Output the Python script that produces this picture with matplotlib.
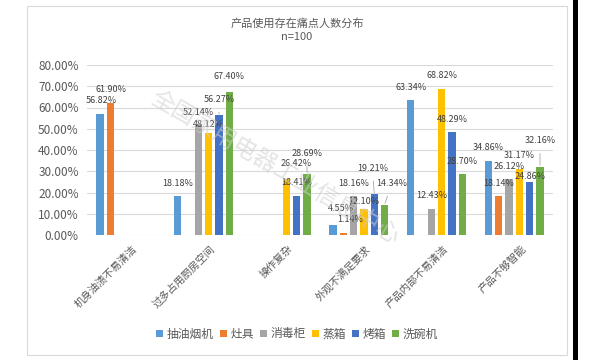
"""Bar chart of product pain points by appliance type."""

import matplotlib
matplotlib.use("Agg")
import matplotlib.pyplot as plt
import matplotlib.transforms as mtrans
from matplotlib.patches import Patch, Rectangle
import numpy as np

plt.rcParams['font.family'] = ['Noto Sans CJK SC', 'DejaVu Sans']

# data
categories = ["机身油渍不易清洁", "过多占用厨房空间", "操作复杂",
              "外观不满足要求", "产品内部不易清洁", "产品不够智能"]
series = ["抽油烟机", "灶具", "消毒柜", "蒸箱", "烤箱", "洗碗机"]
nan = np.nan
hood = [56.82, 18.18, nan, 4.55, 63.34, 34.86]
stove = [61.90, nan, nan, 1.14, nan, 18.14]
steril = [nan, 52.14, nan, 18.16, 12.43, 26.12]
steamer = [nan, 48.12, 26.42, 12.10, 68.82, 31.17]
oven = [nan, 56.27, 18.41, 19.21, 48.29, 24.86]
washer = [nan, 67.40, 28.69, 14.34, 28.70, 32.16]
values = [hood, stove, steril, steamer, oven, washer]

colors = ["#5B9BD5", "#ED7D31", "#A5A5A5", "#FFC000", "#4472C4", "#70AD47"]

# label nudges in pixels (dx, dy above bar top), keyed by (category, series)
nudge = {
    (0, 0): (1, 14), (0, 1): (1, 14),
    (1, 2): (0, 12), (1, 3): (0, 8), (1, 4): (0, 16), (1, 5): (0, 15),
    (2, 3): (10, 15), (2, 5): (0, 21),
    (3, 0): (8, 17), (3, 1): (7, 13), (3, 3): (0, 8), (3, 4): (-2, 26),
    (3, 5): (7, 21),
    (5, 4): (0, 6), (5, 5): (0, 26),
}
leaders = {(1, 4), (2, 5), (3, 4), (3, 5), (5, 5)}

fig = plt.figure(figsize=(6, 3.6), dpi=100)
W, H = 600, 360

# outer chart frame and the black edge on the right
fig.patches.append(Rectangle((27 / W, 1 - 355 / H), 540 / W, 349 / H,
                             transform=fig.transFigure, fill=False,
                             edgecolor="#d9d9d9", lw=0.8))
fig.patches.append(Rectangle((573 / W, 0), 5 / W, 1, transform=fig.transFigure,
                             facecolor="black", edgecolor="none"))

ax = fig.add_axes([87 / W, 1 - 235 / H, 466 / W, 170 / H])

x = np.arange(len(categories))
slot = 0.133
width = 0.097
txt_color = "#595959"

for i, (vals, col) in enumerate(zip(values, colors)):
    pos = x + (i - 2.5) * slot
    ax.bar(pos, vals, width=width, color=col, zorder=3)
    for c, v in enumerate(vals):
        if np.isnan(v):
            continue
        dx, dy = nudge.get((c, i), (0, 13))
        kw = {}
        if (c, i) in leaders:
            kw["arrowprops"] = dict(arrowstyle="-", color="#a6a6a6", lw=0.6,
                                    shrinkA=4, shrinkB=1)
        ax.annotate(f"{v:.2f}%", xy=(pos[c], v), xytext=(dx, dy),
                    textcoords="offset pixels", ha="center", va="center",
                    fontsize=6.5, color="#404040", zorder=4, **kw)

ax.set_xlim(-0.5, len(categories) - 0.5)
ax.set_ylim(0, 80)
ax.set_yticks(np.arange(0, 81, 10))
ax.set_yticklabels([f"{t:.2f}%" for t in range(0, 81, 10)])
ax.grid(axis="y", color="#d9d9d9", lw=0.8, zorder=0)
for s in ax.spines.values():
    s.set_visible(False)
ax.tick_params(axis="y", length=0, pad=6, labelsize=8.5, labelcolor=txt_color)
ax.tick_params(axis="x", length=0, pad=3, labelsize=7.5, labelcolor=txt_color)
ax.set_xticks(x)
ax.set_xticklabels(categories, rotation=45, ha="right", va="center",
                   rotation_mode="anchor")
shift = mtrans.ScaledTranslation(10 / 100, -8 / 100, fig.dpi_scale_trans)
for lab in ax.get_xticklabels():
    lab.set_transform(lab.get_transform() + shift)

# title
fig.text(297 / W, 1 - 24 / H, "产品使用存在痛点人数分布", ha="center",
         va="center", fontsize=8, color=txt_color)
fig.text(297 / W, 1 - 37 / H, "n=100", ha="center", va="center",
         fontsize=8, color=txt_color)

# watermark
fig.text(275 / W, 1 - 168 / H, "全国家用电器工业信息中心", ha="center",
         va="center", rotation=-30, fontsize=17, color="#cfcfcf", alpha=0.55,
         zorder=10)

handles = [Patch(facecolor=c, edgecolor="none") for c in colors]
fig.legend(handles, series, loc="center", bbox_to_anchor=(297 / W, 1 - 334 / H),
           ncol=6, frameon=False, fontsize=8.5, handlelength=0.6,
           handleheight=0.6, handletextpad=0.3, columnspacing=0.5,
           labelcolor=txt_color)

fig.savefig("out.png", dpi=100, facecolor="white")
